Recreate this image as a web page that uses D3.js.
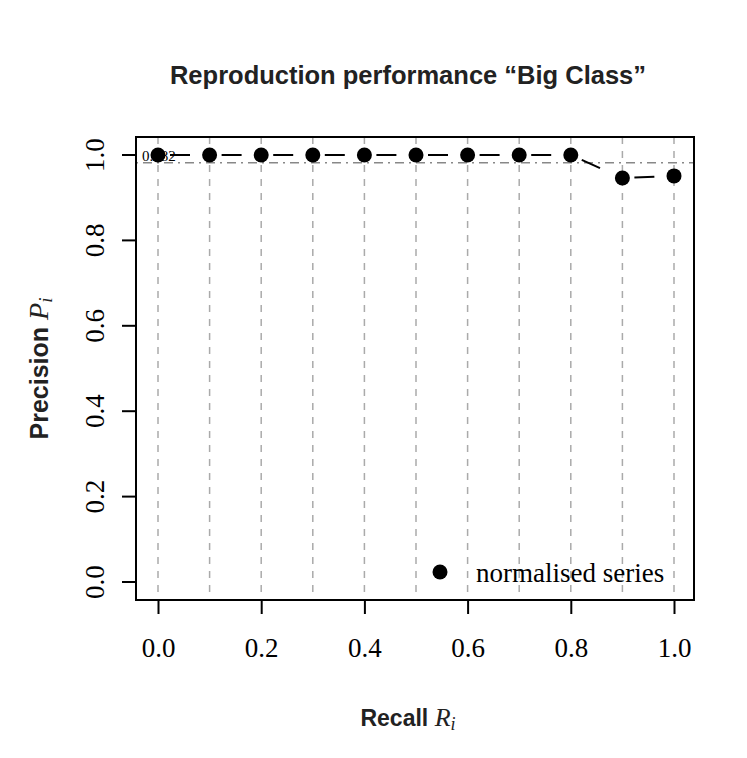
<!DOCTYPE html>
<html>
<head>
<meta charset="utf-8">
<script src="https://cdn.jsdelivr.net/npm/d3@7"></script>
<style>
body { margin: 0; background: #fff; }
</style>
</head>
<body>
<svg width="747" height="758"></svg>
<script>
var recall = [0.0, 0.1, 0.2, 0.3, 0.4, 0.5, 0.6, 0.7, 0.8, 0.9, 1.0];
var precision = [1.0, 1.0, 1.0, 1.0, 1.0, 1.0, 1.0, 1.0, 1.0, 0.946, 0.951];
var meanPrecision = 0.982;
var xTicks = [0, 0.2, 0.4, 0.6, 0.8, 1.0];
var yTicks = [0, 0.2, 0.4, 0.6, 0.8, 1.0];
var gridX = [0, 0.1, 0.2, 0.3, 0.4, 0.5, 0.6, 0.7, 0.8, 0.9, 1.0];

var svg = d3.select("svg");
var serif = "'Liberation Serif', 'Times New Roman', serif";
var sans = "'Liberation Sans', Arial, sans-serif";

var box = {left: 136, right: 694, top: 137, bottom: 600};

var x = d3.scaleLinear().domain([0, 1]).range([158, 674]);
var y = d3.scaleLinear().domain([0, 1]).range([582, 155]);

// grid
svg.selectAll(".grid")
  .data(gridX)
  .enter().append("line")
    .attr("x1", function(d) { return x(d); })
    .attr("x2", function(d) { return x(d); })
    .attr("y1", box.top)
    .attr("y2", box.bottom)
    .attr("stroke", "#aaaaaa")
    .attr("stroke-width", 1.5)
    .attr("stroke-dasharray", "7,7");

// mean line
svg.append("line")
  .attr("x1", box.left).attr("x2", box.right)
  .attr("y1", y(meanPrecision)).attr("y2", y(meanPrecision))
  .attr("stroke", "#888")
  .attr("stroke-width", 1.5)
  .attr("stroke-dasharray", "2,5,9,5");

svg.append("text")
  .attr("x", 142)
  .attr("y", y(meanPrecision) - 2)
  .attr("font-family", serif)
  .attr("font-size", "15px")
  .text(meanPrecision.toFixed(3));

// segments with gaps, like type = "b"
var gap = 12;
var segs = d3.range(recall.length - 1).map(function(i) {
  return [x(recall[i]), y(precision[i]), x(recall[i + 1]), y(precision[i + 1])];
});
svg.selectAll(".seg")
  .data(segs)
  .enter().append("line")
    .each(function(s) {
      var dx = s[2] - s[0], dy = s[3] - s[1];
      var len = Math.sqrt(dx * dx + dy * dy);
      var ux = dx / len, uy = dy / len;
      d3.select(this)
        .attr("x1", s[0] + ux * gap).attr("y1", s[1] + uy * gap)
        .attr("x2", s[2] - ux * gap).attr("y2", s[3] - uy * gap);
    })
    .attr("stroke", "#000")
    .attr("stroke-width", 2)
    .attr("stroke-dasharray", "20,30");

svg.selectAll(".pt")
  .data(recall)
  .enter().append("circle")
    .attr("cx", function(d) { return x(d); })
    .attr("cy", function(d, i) { return y(precision[i]); })
    .attr("r", 7.5)
    .attr("fill", "#000");

// box
svg.append("rect")
  .attr("x", box.left).attr("y", box.top)
  .attr("width", box.right - box.left).attr("height", box.bottom - box.top)
  .attr("fill", "none").attr("stroke", "#000").attr("stroke-width", 2);

// x axis
var xAxis = svg.append("g")
  .attr("transform", "translate(0," + box.bottom + ")")
  .call(d3.axisBottom(x).tickValues(xTicks).tickSize(14).tickPadding(24).tickFormat(d3.format(".1f")));
xAxis.select(".domain").remove();
xAxis.selectAll("line").attr("stroke-width", 2);
xAxis.selectAll("text").attr("font-family", serif).attr("font-size", "27px").attr("fill", "#000");

// y axis
var yAxis = svg.append("g")
  .attr("transform", "translate(" + box.left + ",0)")
  .call(d3.axisLeft(y).tickValues(yTicks).tickSize(14).tickFormat(d3.format(".1f")));
yAxis.select(".domain").remove();
yAxis.selectAll("line").attr("stroke-width", 2);
yAxis.selectAll("text")
  .attr("font-family", serif).attr("font-size", "27px").attr("fill", "#000")
  .attr("transform", function(d) { return "translate(-41," + y(d) + ") rotate(-90)"; })
  .attr("x", 0).attr("y", 0).attr("dy", "0.35em")
  .attr("text-anchor", "middle");
yAxis.selectAll(".tick").attr("transform", null);
yAxis.selectAll(".tick line").attr("y1", function(d) { return y(d); }).attr("y2", function(d) { return y(d); });

// legend
svg.append("circle").attr("cx", 440).attr("cy", 572).attr("r", 7.5).attr("fill", "#000");
svg.append("text")
  .attr("x", 476).attr("y", 582)
  .attr("font-family", serif).attr("font-size", "27px")
  .text("normalised series");

// title
svg.append("text")
  .attr("x", 408).attr("y", 84)
  .attr("text-anchor", "middle")
  .attr("font-family", sans).attr("font-weight", "bold").attr("font-size", "25.5px")
  .attr("fill", "#222")
  .text("Reproduction performance \u201cBig Class\u201d");

// x label
var xl = svg.append("text")
  .attr("x", 408).attr("y", 726)
  .attr("text-anchor", "middle").attr("fill", "#222");
xl.append("tspan").attr("font-family", sans).attr("font-weight", "bold").attr("font-size", "23px").text("Recall ");
xl.append("tspan").attr("font-family", serif).attr("font-style", "italic").attr("font-size", "26px").text("R");
xl.append("tspan").attr("font-family", serif).attr("font-style", "italic").attr("font-size", "18px").attr("dy", "4").text("i");

// y label
var yl = svg.append("text")
  .attr("transform", "translate(48," + ((box.top + box.bottom) / 2) + ") rotate(-90)")
  .attr("text-anchor", "middle").attr("fill", "#222");
yl.append("tspan").attr("font-family", sans).attr("font-weight", "bold").attr("font-size", "25px").text("Precision ");
yl.append("tspan").attr("font-family", serif).attr("font-style", "italic").attr("font-size", "28px").text("P");
yl.append("tspan").attr("font-family", serif).attr("font-style", "italic").attr("font-size", "19px").attr("dy", "4").text("i");
</script>
</body>
</html>
